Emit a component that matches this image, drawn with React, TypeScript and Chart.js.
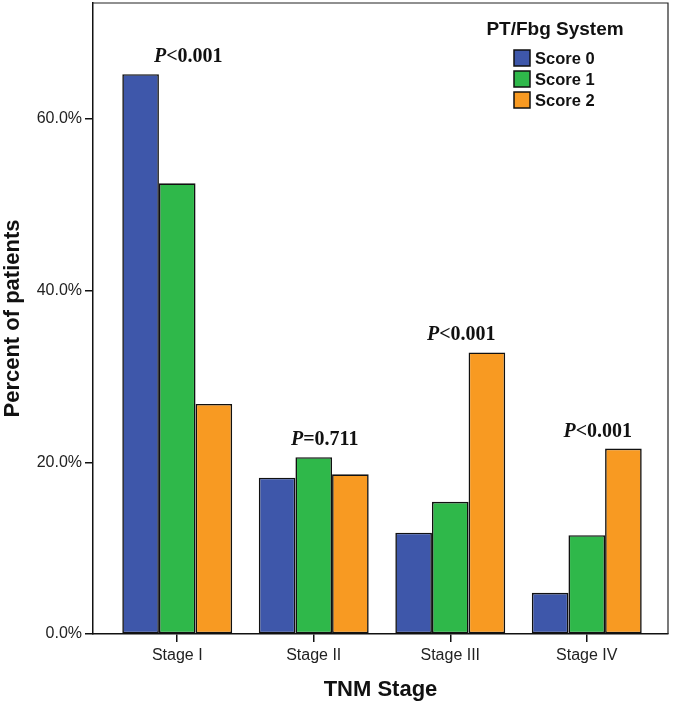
import React, { useEffect, useRef } from "react";
import { Chart, registerables } from "chart.js";

Chart.register(...registerables);

const categories = ["Stage I", "Stage II", "Stage III", "Stage IV"];
const seriesNames = ["Score 0", "Score 1", "Score 2"];
const score0 = [65.2, 18.2, 11.8, 4.8];
const score1 = [52.5, 20.6, 15.4, 11.5];
const score2 = [26.8, 18.6, 32.8, 21.6];
const pValues = ["<0.001", "=0.711", "<0.001", "<0.001"];
const yTickValues = [0, 20, 40, 60];
const yMax = 73.5;
const legendTitle = "PT/Fbg System";
const xTitle = "TNM Stage";
const yTitle = "Percent of patients";

const colors = ["#3E57AA", "#2FB84A", "#F89A22"];
const SANS = "'Liberation Sans', Arial, Helvetica, sans-serif";
const SERIF = "'Liberation Serif', 'Times New Roman', serif";

const framePlugin = {
  id: "frame",
  afterDraw(chart: any) {
    const { ctx, chartArea } = chart;
    ctx.save();
    ctx.strokeStyle = "#222";
    ctx.lineWidth = 1.2;
    ctx.beginPath();
    ctx.moveTo(chartArea.left, chartArea.top);
    ctx.lineTo(chartArea.right, chartArea.top);
    ctx.lineTo(chartArea.right, chartArea.bottom);
    ctx.stroke();
    ctx.restore();
  },
};

const pLabelPlugin = {
  id: "pLabels",
  afterDatasetsDraw(chart: any) {
    const { ctx, scales } = chart;
    const xs = scales.x;
    const ys = scales.y;
    ctx.save();
    ctx.fillStyle = "#111";
    ctx.textBaseline = "alphabetic";
    categories.forEach((_, i) => {
      const top = Math.max(score0[i], score1[i], score2[i]);
      const cx = xs.getPixelForValue(i) + 11;
      const by = ys.getPixelForValue(top) - 12;
      const fP = `italic bold 20px ${SERIF}`;
      const fR = `bold 20px ${SERIF}`;
      ctx.font = fP;
      const wP = ctx.measureText("P").width;
      ctx.font = fR;
      const wR = ctx.measureText(pValues[i]).width;
      const x0 = cx - (wP + wR) / 2;
      ctx.textAlign = "left";
      ctx.font = fP;
      ctx.fillText("P", x0, by);
      ctx.font = fR;
      ctx.fillText(pValues[i], x0 + wP, by);
    });
    ctx.restore();
  },
};

const legendPlugin = {
  id: "customLegend",
  afterDraw(chart: any) {
    const { ctx, chartArea } = chart;
    ctx.save();
    ctx.fillStyle = "#111";
    ctx.textAlign = "center";
    ctx.textBaseline = "middle";
    ctx.font = `bold 19px ${SANS}`;
    ctx.fillText(legendTitle, chartArea.right - 113, chartArea.top + 27);
    chart.data.datasets.forEach((ds: any, i: number) => {
      const bx = chartArea.right - 154;
      const cy = chartArea.top + 55 + i * 21;
      ctx.fillStyle = ds.backgroundColor;
      ctx.fillRect(bx, cy - 8, 16, 16);
      ctx.strokeStyle = "#111";
      ctx.lineWidth = 1.5;
      ctx.strokeRect(bx, cy - 8, 16, 16);
      ctx.fillStyle = "#111";
      ctx.textAlign = "left";
      ctx.font = `bold 16.5px ${SANS}`;
      ctx.fillText(ds.label, bx + 21, cy + 1);
    });
    ctx.restore();
  },
};

export default function App() {
  const ref = useRef<HTMLCanvasElement | null>(null);

  useEffect(() => {
    if (!ref.current) return;
    const series = [score0, score1, score2];
    const chart = new Chart(ref.current, {
      type: "bar",
      data: {
        datasets: series.map((vals, si) => ({
          label: seriesNames[si],
          data: vals.map((v, i) => ({ x: i, y: v })),
          backgroundColor: colors[si],
          borderColor: "#111",
          borderWidth: 1.6,
          borderSkipped: false,
          categoryPercentage: 0.805,
          barPercentage: 1,
        })),
      },
      options: {
        responsive: false,
        animation: false,
        maintainAspectRatio: false,
        layout: { padding: { top: 3, right: 7, left: 0, bottom: 0 } },
        plugins: {
          legend: { display: false },
          tooltip: { enabled: false },
        },
        scales: {
          x: {
            type: "linear",
            offset: false,
            min: -0.617,
            max: 3.595,
            afterBuildTicks(scale: any) {
              scale.ticks = categories.map((_, i) => ({ value: i }));
            },
            afterFit(scale: any) {
              scale.height = 71;
              scale.paddingLeft = 0;
              scale.paddingRight = 0;
            },
            grid: {
              offset: false,
              drawOnChartArea: false,
              drawTicks: true,
              tickLength: 8,
              color: "#111",
              lineWidth: 1.5,
            },
            border: { display: true, color: "#111", width: 1.5 },
            ticks: {
              autoSkip: false,
              maxRotation: 0,
              padding: 4,
              color: "#222",
              font: { family: SANS, size: 16 },
              callback: (v: any) => categories[v as number] ?? "",
            },
            title: {
              display: true,
              text: xTitle,
              color: "#111",
              font: { family: SANS, size: 22, weight: "bold", lineHeight: 1.2 },
              padding: { top: 0, bottom: 2 },
            },
          },
          y: {
            type: "linear",
            min: 0,
            max: yMax,
            afterBuildTicks(scale: any) {
              scale.ticks = yTickValues.map((v) => ({ value: v }));
            },
            afterFit(scale: any) {
              scale.width = 93;
              scale.paddingTop = 0;
              scale.paddingBottom = 0;
            },
            grid: {
              drawOnChartArea: false,
              drawTicks: true,
              tickLength: 8,
              color: "#111",
              lineWidth: 1.5,
            },
            border: { display: true, color: "#111", width: 1.5 },
            ticks: {
              padding: 3,
              color: "#222",
              font: { family: SANS, size: 16 },
              callback: (v: any) => Number(v).toFixed(1) + "%",
            },
            title: {
              display: true,
              text: yTitle,
              color: "#111",
              font: { family: SANS, size: 22, weight: "bold", lineHeight: 1.2 },
              padding: { top: 0, bottom: 0 },
            },
          },
        },
      },
      plugins: [framePlugin, pLabelPlugin, legendPlugin],
    } as any);
    return () => chart.destroy();
  }, []);

  return (
    <div style={{ position: "absolute", left: 0, top: 0, width: 675, height: 705, background: "#fff" }}>
      <canvas ref={ref} width={675} height={705} style={{ display: "block" }} />
    </div>
  );
}
